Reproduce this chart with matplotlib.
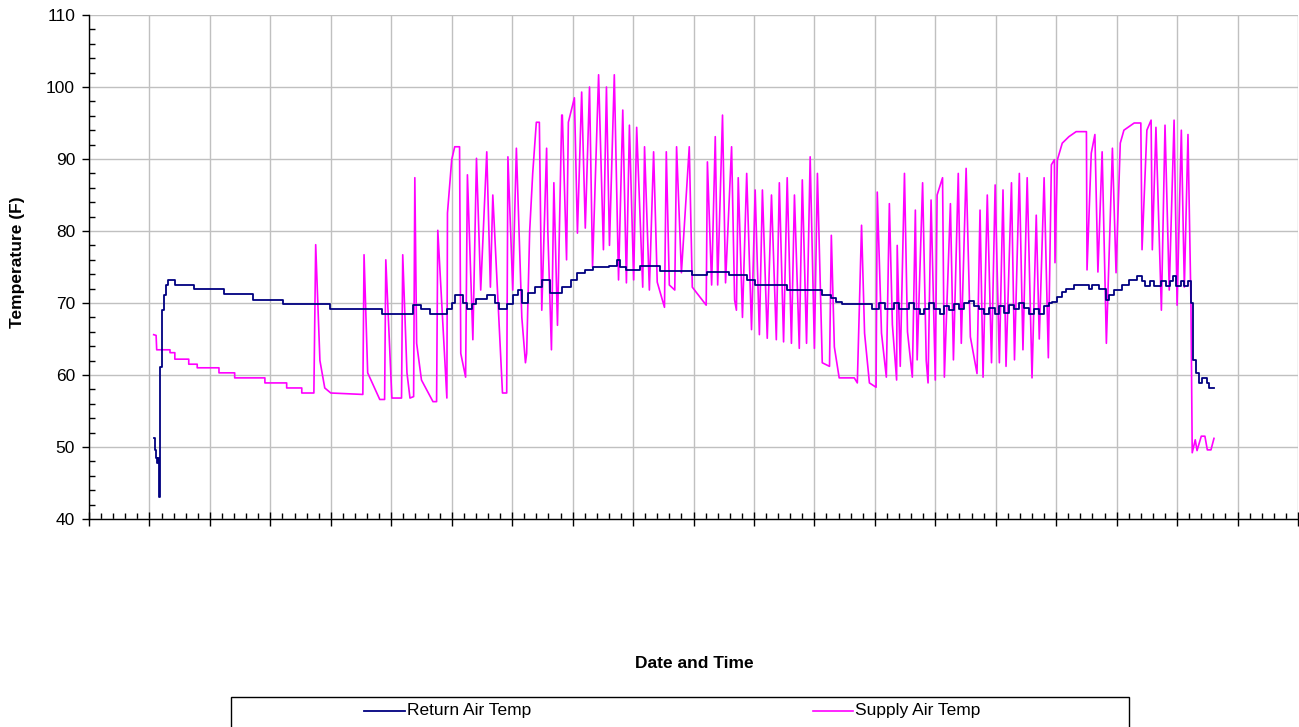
import matplotlib
matplotlib.use("Agg")
import matplotlib.pyplot as plt
from matplotlib.ticker import MultipleLocator, NullFormatter
from matplotlib.lines import Line2D
from matplotlib.patches import Rectangle

plt.rcParams['font.family'] = ['Liberation Sans', 'DejaVu Sans']

# time in days from the left edge of the axis, temperatures in F
supply_t = [1.07, 1.11, 1.12, 1.34, 1.34, 1.42, 1.42, 1.65, 1.65, 1.79, 1.79, 2.15, 2.15, 2.41, 2.41,
            2.91, 2.91, 3.27, 3.27, 3.52, 3.52, 3.72, 3.75, 3.82, 3.90, 4.00, 4.53, 4.55, 4.61, 4.81,
            4.89, 4.91, 5.01, 5.17, 5.19, 5.26, 5.31, 5.37, 5.39, 5.42, 5.50, 5.69, 5.75, 5.77, 5.92,
            5.93, 6.00, 6.05, 6.13, 6.15, 6.23, 6.26, 6.35, 6.41, 6.48, 6.58, 6.64, 6.68, 6.84, 6.91,
            6.93, 7.01, 7.07, 7.16, 7.22, 7.24, 7.29, 7.34, 7.40, 7.45, 7.49, 7.57, 7.59, 7.65, 7.69,
            7.75, 7.82, 7.83, 7.90, 7.93, 8.03, 8.08, 8.15, 8.21, 8.28, 8.33, 8.43, 8.51, 8.56, 8.61,
            8.69, 8.76, 8.83, 8.89, 8.94, 9.01, 9.06, 9.16, 9.19, 9.27, 9.34, 9.40, 9.52, 9.55, 9.60,
            9.69, 9.72, 9.80, 9.93, 9.98, 10.21, 10.23, 10.30, 10.36, 10.40, 10.48, 10.53, 10.63, 10.68,
            10.71, 10.74, 10.81, 10.88, 10.96, 11.02, 11.09, 11.14, 11.22, 11.29, 11.37, 11.42, 11.49,
            11.55, 11.62, 11.67, 11.75, 11.80, 11.87, 11.93, 12.00, 12.05, 12.13, 12.25, 12.28, 12.33,
            12.41, 12.66, 12.71, 12.78, 12.83, 12.91, 13.02, 13.04, 13.11, 13.19, 13.24, 13.29, 13.36,
            13.37, 13.42, 13.49, 13.54, 13.62, 13.67, 13.70, 13.79, 13.85, 13.88, 13.93, 14.00, 14.03,
            14.12, 14.15, 14.25, 14.30, 14.38, 14.43, 14.51, 14.58, 14.69, 14.74, 14.79, 14.86, 14.93,
            14.99, 15.06, 15.12, 15.17, 15.26, 15.31, 15.39, 15.45, 15.52, 15.60, 15.67, 15.72, 15.80,
            15.87, 15.92, 15.97, 15.98, 16.02, 16.10, 16.21, 16.33, 16.50, 16.51, 16.58, 16.64, 16.69,
            16.76, 16.83, 16.93, 16.99, 17.06, 17.12, 17.29, 17.40, 17.42, 17.50, 17.57, 17.59, 17.65,
            17.74, 17.80, 17.87, 17.95, 18.00, 18.07, 18.12, 18.18, 18.23, 18.25, 18.30, 18.33, 18.40,
            18.46, 18.50, 18.56, 18.61]
supply_temp = [65.6, 65.5, 63.5, 63.5, 63.1, 63.1, 62.2, 62.2, 61.5, 61.5, 61.0, 61.0, 60.3, 60.3, 59.6,
               59.6, 58.9, 58.9, 58.2, 58.2, 57.5, 57.5, 78.1, 62.0, 58.2, 57.5, 57.3, 76.7, 60.3, 56.6,
               56.6, 76.0, 56.8, 56.8, 76.7, 60.3, 56.8, 57.0, 87.4, 64.4, 59.3, 56.3, 56.3, 80.1, 56.8,
               82.5, 89.9, 91.7, 91.7, 63.0, 59.7, 87.8, 64.9, 90.1, 71.8, 91.0, 72.2, 85.0, 57.5, 57.5,
               90.3, 71.8, 91.5, 68.0, 61.7, 63.0, 80.0, 88.0, 95.1, 95.1, 69.0, 91.5, 80.0, 63.5, 86.7,
               66.9, 96.1, 96.1, 76.0, 95.1, 98.5, 79.7, 99.3, 80.4, 100.0, 75.0, 101.7, 77.4, 100.0, 78.0,
               101.7, 73.2, 96.8, 72.8, 94.7, 73.2, 94.4, 72.2, 91.7, 71.8, 91.0, 72.9, 69.4, 91.0, 72.5,
               71.8, 91.7, 74.2, 91.7, 72.2, 69.7, 89.6, 72.5, 93.1, 72.5, 96.1, 72.8, 91.7, 70.4,
               69.0, 87.4, 68.0, 88.0, 66.3, 85.7, 65.6, 85.7, 65.1, 85.0, 64.9, 86.7, 64.6,
               87.4, 64.4, 85.0, 63.7, 87.1, 64.4, 90.3, 63.7, 88.0, 61.7, 61.2, 79.4, 63.9,
               59.6, 59.6, 58.9, 80.8, 65.8, 58.9, 58.3, 85.4, 65.8, 59.7, 83.8, 67.0, 59.3,
               78.0, 61.2, 88.0, 66.0, 59.7, 82.9, 62.1, 86.7, 62.0, 58.9, 84.3, 59.3, 85.0,
               87.4, 59.7, 83.8, 62.1, 88.0, 64.4, 88.7, 65.3, 60.2, 82.9, 59.7, 85.0, 61.7,
               86.4, 61.7, 85.7, 61.2, 86.7, 62.1, 88.0, 63.5, 87.4, 59.6, 82.2, 65.0, 87.4,
               62.4, 89.2, 89.9, 75.6, 89.9, 92.2, 93.1, 93.8, 93.8, 74.6, 90.8, 93.4, 74.3,
               91.0, 64.4, 91.5, 74.2, 92.2, 94.0, 95.0, 95.0, 77.4, 94.0, 95.4, 77.4, 94.4,
               69.0, 94.7, 71.8, 95.4, 69.7, 94.0, 72.2, 93.4, 69.4, 49.2, 51.0, 49.5, 51.5,
               51.5, 49.6, 49.6, 51.2]

return_t = [1.07, 1.09, 1.11, 1.12, 1.14, 1.16, 1.17, 1.21, 1.24, 1.27, 1.31, 1.42, 1.74, 2.23, 2.71,
            3.21, 3.98, 4.84, 5.36, 5.50, 5.64, 5.92, 6.00, 6.05, 6.18, 6.25, 6.33, 6.41, 6.58, 6.71,
            6.79, 6.91, 7.01, 7.09, 7.17, 7.26, 7.37, 7.49, 7.62, 7.83, 7.98, 8.07, 8.20, 8.33, 8.61,
            8.73, 8.78, 8.89, 9.11, 9.44, 9.98, 10.23, 10.59, 10.88, 11.01, 11.54, 12.13, 12.28, 12.36,
            12.45, 12.96, 13.07, 13.16, 13.32, 13.40, 13.57, 13.65, 13.74, 13.82, 13.90, 13.98, 14.07,
            14.15, 14.23, 14.31, 14.40, 14.48, 14.56, 14.64, 14.73, 14.81, 14.89, 14.98, 15.06, 15.14,
            15.22, 15.31, 15.39, 15.46, 15.55, 15.64, 15.72, 15.80, 15.88, 15.93, 16.02, 16.10, 16.17,
            16.30, 16.55, 16.60, 16.71, 16.83, 16.88, 16.96, 17.09, 17.21, 17.34, 17.42, 17.47, 17.55,
            17.62, 17.74, 17.82, 17.88, 17.93, 17.98, 18.07, 18.12, 18.18, 18.23, 18.26, 18.31, 18.36,
            18.41, 18.50, 18.53, 18.61]
return_temp = [51.2, 49.6, 48.5, 47.8, 48.5, 43.1, 61.1, 69.0, 71.1, 72.5, 73.2, 72.5, 71.9, 71.3, 70.4,
               69.8, 69.2, 68.5, 69.7, 69.2, 68.5, 69.2, 70.0, 71.1, 70.0, 69.2, 69.8, 70.5, 71.1, 70.0,
               69.2, 69.8, 71.1, 71.8, 70.0, 71.4, 72.2, 73.2, 71.4, 72.2, 73.2, 74.2, 74.6, 75.0, 75.2,
               76.0, 75.0, 74.6, 75.2, 74.4, 73.9, 74.3, 73.9, 73.2, 72.5, 71.8, 71.1, 70.7, 70.2,
               69.9, 69.2, 70.0, 69.2, 70.0, 69.2, 70.0, 69.2, 68.5, 69.2, 70.0, 69.2, 68.5,
               69.6, 69.0, 69.9, 69.2, 70.0, 70.3, 69.6, 69.2, 68.5, 69.3, 68.5, 69.6, 68.6,
               69.7, 69.2, 70.0, 69.3, 68.5, 69.2, 68.5, 69.6, 70.0, 70.2, 70.9, 71.5, 71.9,
               72.5, 71.9, 72.5, 71.9, 70.4, 71.1, 71.8, 72.5, 73.2, 73.8, 73.0, 72.4, 73.0,
               72.4, 73.0, 72.4, 73.0, 73.8, 72.4, 73.0, 72.4, 73.0, 70.0, 62.1, 60.3, 58.9,
               59.6, 58.9, 58.2, 58.2]

navy = '#000080'
magenta = '#FF00FF'

fig = plt.figure(figsize=(12.99, 7.27), dpi=100)
ax = fig.add_axes([89 / 1299, 1 - 519 / 727, 1209 / 1299, 504 / 727])

ax.plot(return_t, return_temp, color=navy, lw=1.3, drawstyle='steps-post', zorder=3)
ax.plot(supply_t, supply_temp, color=magenta, lw=1.2, zorder=2)

ax.set_xlim(0, 20)
ax.set_ylim(40, 110)
ax.xaxis.set_major_locator(MultipleLocator(1))
ax.xaxis.set_minor_locator(MultipleLocator(0.2))
ax.xaxis.set_major_formatter(NullFormatter())
ax.yaxis.set_major_locator(MultipleLocator(10))
ax.yaxis.set_minor_locator(MultipleLocator(2))

ax.grid(True, which='major', color='#c0c0c0', lw=1.0, zorder=0)
ax.set_axisbelow(True)
for s in ['top', 'right']:
    ax.spines[s].set_visible(False)
for s in ['left', 'bottom']:
    ax.spines[s].set_color('black')
    ax.spines[s].set_linewidth(1.0)

ax.tick_params(axis='y', which='major', direction='out', length=5, width=1, labelsize=12.5, pad=5)
ax.tick_params(axis='y', which='minor', direction='in', length=4, width=1)
ax.tick_params(axis='x', which='major', direction='inout', length=10, width=1)
ax.tick_params(axis='x', which='minor', direction='in', length=4, width=1)

fig.text(18 / 1299, 1 - 262 / 727, 'Temperature (F)', rotation=90, ha='center', va='center',
         fontsize=12.5, fontweight='bold')
fig.text(694 / 1299, 1 - 663 / 727, 'Date and Time', ha='center', va='center',
         fontsize=12.5, fontweight='bold')

# legend box drawn by hand to match the wide frame
fig.patches.append(Rectangle((231 / 1299, -0.01), 898 / 1299, 0.01 + 30 / 727,
                             transform=fig.transFigure, fill=False, edgecolor='black', lw=1.0))
ly = 1 - 711 / 727
fig.lines.append(Line2D([364 / 1299, 405 / 1299], [ly, ly], transform=fig.transFigure, color=navy, lw=1.3))
fig.lines.append(Line2D([813 / 1299, 853 / 1299], [ly, ly], transform=fig.transFigure, color=magenta, lw=1.2))
fig.text(407 / 1299, ly, 'Return Air Temp', ha='left', va='center', fontsize=12.5)
fig.text(855 / 1299, ly, 'Supply Air Temp', ha='left', va='center', fontsize=12.5)

fig.savefig('out.png', dpi=100)
